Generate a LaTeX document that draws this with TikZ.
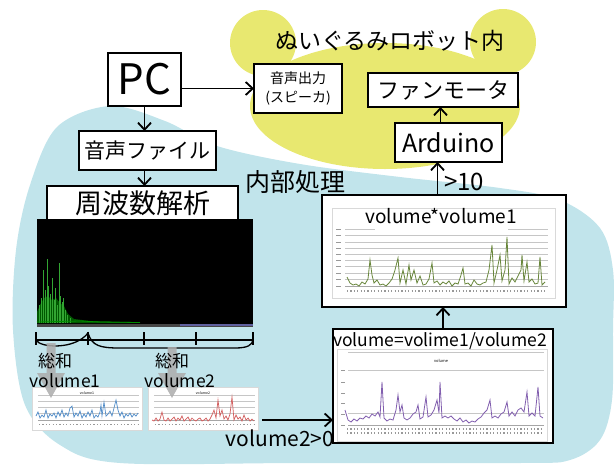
\documentclass[tikz,border=0pt]{standalone}
\usepackage{fontspec}
\setmainfont{Noto Sans CJK JP}
\usetikzlibrary{arrows.meta}
\definecolor{ylw}{RGB}{232,232,112}
\definecolor{blu}{RGB}{193,228,235}
\definecolor{olv}{RGB}{105,135,60}
\definecolor{prp}{RGB}{130,95,175}
\definecolor{bln}{RGB}{80,140,200}
\definecolor{rdl}{RGB}{210,95,95}
\definecolor{grn}{RGB}{50,165,50}
\newcommand{\fsz}[1]{\fontsize{#1}{#1}\selectfont}
\begin{document}
\begin{tikzpicture}[x=1pt,y=-1pt,
  box/.style={draw, line width=2.2pt, fill=white, inner sep=0pt, outer sep=0pt},
  arr/.style={line width=1.8pt, -{Straight Barb[length=7pt,width=13pt,line width=1.8pt]}},
  lbl/.style={inner sep=0pt},
  grid/.style={gray!45, line width=0.5pt},
  ticklbl/.style={gray!80, line width=1.6pt, dash pattern=on 1.2pt off 2.2pt},
  chart/.style={fill=white, draw=gray!30, line width=0.5pt, inner sep=0pt}]
\useasboundingbox (0,0) rectangle (615,466);

% yellow "robot" region
\fill[ylw] (385,106) ellipse [x radius=135, y radius=63];
\fill[ylw] (263,43) circle [radius=33];
\fill[ylw] (503,42) circle [radius=33];

% blue "internal processing" region
\fill[blu] plot[smooth cycle, tension=0.55] coordinates {
 (57,127) (110,106) (165,121) (217,146) (300,164) (400,177) (500,188)
 (560,200) (600,228) (613,270) (613,330) (612,400) (600,440) (570,460)
 (520,463) (300,463) (120,463) (60,445) (25,405) (13,330) (16,250) (30,185)};

% boxes
\node[box, minimum width=73pt, minimum height=53pt, font=\fsz{42}] (pc) at (144.5,79.5) {PC};
\node[box, minimum width=88pt, minimum height=49pt, align=center, font=\fontsize{14}{19}\selectfont] (spk) at (298,88.5) {音声出力\\(スピーカ)};
\node[box, minimum width=137pt, minimum height=39pt, font=\fsz{21}] (file) at (147.5,150.5) {音声ファイル};
\node[box, minimum width=191pt, minimum height=34pt, font=\fsz{27}] (fft) at (142.5,203) {周波数解析};
\node[fill=black, minimum width=216pt, minimum height=108pt, inner sep=0pt] (spec) at (145,273) {};
\node[box, minimum width=150pt, minimum height=34pt, font=\fsz{22}] (fan) at (443,90) {ファンモータ};
\node[box, minimum width=107pt, minimum height=39pt, font=\fsz{25}] (ard) at (448.5,142.5) {Arduino};
\node[box, line width=2.5pt, minimum width=244pt, minimum height=112pt] (vv1) at (444,251) {};
\node[box, line width=2.5pt, minimum width=220pt, minimum height=114pt] (vol) at (443,386) {};
\node[chart, minimum width=110pt, minimum height=43pt] (ch1) at (87,408.5) {};
\node[chart, minimum width=110pt, minimum height=43pt] (ch2) at (203,408.5) {};

% spectrum picture
\fill[green!35!black] (37,323) -- (37,312) -- (40,305) -- (44,298) -- (48,296) -- (52,300) -- (56,298) -- (60,303) -- (64,306) -- (68,314) -- (74,319) -- (90,321) -- (130,322) -- (130,323) -- cycle;
\foreach \x/\t in {39/305, 41/298, 43/270, 45/290, 47/259, 48/286, 50/294, 52/278, 54/300, 55/288, 57/305, 59/263, 60/296, 62/302, 63/298, 65/310, 67/315, 70/318}
  \draw[grn, line width=0.8pt] (\x,323) -- (\x,\t);
\draw[green!55!black, line width=0.8pt] (37,322) -- (80,321) -- (100,322) -- (140,322.5);
\fill[gray!55!black] (37,324) rectangle (253,326.5);
\fill[blue!25!gray] (180,324) rectangle (253,325.5);

% axis + braces under spectrum
\draw[line width=1.3pt] (36,340) -- (253,340);
\foreach \x in {36,88,144,196,253} \draw[line width=1.3pt] (\x,332) -- (\x,345);
\draw[line width=1.3pt] (36,340) .. controls (40,348) and (75,350) .. (88,333)
  .. controls (92,346) and (100,348) .. (120,348) -- (235,348) .. controls (248,348) and (252,345) .. (253,340);

% volume*volume1 chart
\draw[gray!30, line width=0.5pt] (332,208) rectangle (555,298);
\draw[grid] (345,229) -- (375,229) (508,229) -- (548,229);
\foreach \y in {235,242,248,254,260,266,273,279} \draw[grid] (345,\y) -- (548,\y);
\draw[gray!70, line width=0.6pt] (345,286) -- (548,286);
\foreach \y in {229,235,242,248,254,260,266,273,279,286} \draw[gray!80, line width=1pt] (336,\y) -- (341,\y);
\draw[ticklbl] (347,291) -- (546,291);
\draw[olv, line width=0.8pt] plot coordinates {(347,277) (350,283) (353,285) (356,284) (359,286) (362,282) (365,284) (368,279) (370,260) (372,275) (374,283) (377,280) (380,285) (383,284) (386,286) (389,283) (392,279) (395,270) (398,258) (400,283) (403,270) (406,284) (409,265) (411,280) (414,270) (417,283) (420,276) (423,285) (426,284) (429,279) (432,263) (434,283) (437,281) (440,285) (443,282) (446,284) (449,281) (452,286) (455,283) (458,284) (461,275) (463,268) (465,284) (468,283) (471,286) (474,280) (477,284) (480,285) (483,283) (486,282) (489,270) (492,245) (494,283) (497,270) (500,255) (502,281) (505,270) (507,237) (509,284) (512,278) (515,282) (518,276) (521,270) (522,255) (524,281) (527,262) (529,282) (532,279) (535,284) (538,283) (540,257) (542,285) (545,282)};
\node[lbl, font=\fsz{19}] (vv1t) at (441,216) {volume*volume1};

% volume chart
\draw[gray!30, line width=0.5pt] (337,349) rectangle (547,441);
\node[lbl, font=\fsz{4}] (volmini) at (441,361) {volume};
\foreach \y in {352,370,413} \draw[grid] (348,\y) -- (544,\y);
\draw[gray!70, line width=0.6pt] (348,425) -- (544,425);
\foreach \y in {370,382,393,403,414,425} \draw[gray!80, line width=1pt] (341,\y) -- (345,\y);
\draw[ticklbl] (347,429) -- (544,429);
\draw[ticklbl] (347,433) -- (544,433);
\draw[prp, line width=0.8pt] plot coordinates {(345,410) (348,420) (351,422) (354,419) (357,421) (360,418) (363,419) (366,416) (369,418) (372,414) (375,416) (378,412) (380,417) (382,382) (384,418) (387,421) (390,419) (393,420) (396,410) (398,395) (400,412) (402,405) (404,418) (407,420) (410,418) (413,414) (416,412) (418,405) (420,419) (423,417) (426,397) (428,417) (431,415) (434,410) (437,400) (439,413) (440,382) (442,418) (445,416) (448,418) (451,416) (454,419) (457,421) (460,418) (463,422) (466,420) (469,423) (472,421) (475,422) (478,419) (481,417) (484,413) (487,410) (490,400) (492,418) (495,416) (498,418) (501,414) (504,412) (507,402) (509,416) (512,412) (515,416) (518,410) (521,408) (524,412) (527,392) (529,416) (532,413) (535,416) (538,387) (540,416) (543,418)};
\node[lbl, font=\fsz{17.5}] (volt) at (440,341) {volume=volime1/volume2};

% small charts
\foreach \c in {ch1,ch2} {
  \foreach \dy in {-13,-7,-1,5} \draw[grid] ([xshift=-49pt,yshift=-\dy pt]\c.center) -- ([xshift=52pt,yshift=-\dy pt]\c.center);
  \draw[gray!70, line width=0.5pt] ([xshift=-49pt,yshift=-12pt]\c.center) -- ([xshift=52pt,yshift=-12pt]\c.center);
  \draw[ticklbl, line width=1.2pt] ([xshift=-48pt,yshift=-16pt]\c.center) -- ([xshift=52pt,yshift=-16pt]\c.center);
}
\node[lbl, font=\fsz{3.5}] (c1t) at (87,393.5) {volume1};
\node[lbl, font=\fsz{3.5}] (c2t) at (203,393.5) {volume2};
\draw[bln, line width=0.7pt] plot coordinates {(36,416) (38,412) (40,418) (42,415) (44,417) (46,410) (48,418) (50,414) (52,416) (54,413) (56,418) (58,412) (60,416) (62,410) (64,417) (66,413) (68,416) (70,408) (72,406) (74,417) (76,413) (78,416) (80,411) (82,418) (84,414) (86,417) (88,412) (90,416) (92,410) (94,418) (96,415) (98,417) (100,412) (101,405) (102,416) (104,402) (106,416) (108,414) (110,411) (112,416) (114,408) (116,400) (118,410) (120,416) (122,412) (124,418) (126,414) (128,416) (130,413) (132,417) (134,414) (136,416) (138,413)};
\draw[rdl, line width=0.7pt] plot coordinates {(152,420) (154,421) (156,418) (158,421) (160,419) (162,412) (164,420) (166,421) (168,418) (170,421) (172,419) (174,417) (176,421) (178,418) (180,420) (182,416) (184,421) (186,419) (188,417) (190,421) (192,418) (194,420) (196,421) (198,419) (200,418) (202,421) (204,420) (206,418) (208,421) (210,419) (212,415) (214,410) (216,418) (218,400) (220,416) (222,410) (224,419) (226,416) (228,420) (230,414) (232,397) (234,420) (236,415) (238,419) (240,417) (242,421) (244,415) (246,420) (248,418) (250,421) (252,419) (254,421)};

% grey summation arrows
\foreach \cx/\top in {51/343, 172/347}
  \fill[gray!65, opacity=0.85] (\cx-4.5,\top) -- (\cx+4.5,\top) -- (\cx+4.5,373) -- (\cx+14,373) -- (\cx,398) -- (\cx-14,373) -- (\cx-4.5,373) -- cycle;

% connectors
\draw[arr] (pc.east |- spk.west) -- (spk.west);
\draw[arr] (pc.south) -- (pc.south |- file.north);
\draw[arr] (pc.south |- file.south) -- (pc.south |- fft.north);
\coordinate (a1) at ([xshift=-11pt]ard.south);
\draw[arr] (a1 |- vv1.north) -- (a1);
\coordinate (a2) at ([xshift=-8pt]ard.north);
\draw[arr] (a2) -- (a2 |- fan.south);
\draw[arr] (vol.north) -- (vol.north |- vv1.south);
\coordinate (s2) at ([xshift=4pt,yshift=-11.5pt]ch2.east);
\draw[arr] (s2) -- (s2 -| vol.west);

% labels
\node[lbl, font=\fsz{23}] (robot) at (390,41) {ぬいぐるみロボット内};
\node[lbl, font=\fsz{25}] (inner) at (295,182) {内部処理};
\node[lbl, font=\fsz{24}] (gt) at (464,182) {>10};
\node[lbl, font=\fsz{17}] (sum1) at (55,361) {総和};
\node[lbl, font=\fsz{17.5}] (v1) at (65,381) {volume1};
\node[lbl, font=\fsz{17}] (sum2) at (172,361) {総和};
\node[lbl, font=\fsz{17.5}] (v2) at (180,381) {volume2};
\node[lbl, font=\fsz{21}] (cond) at (280,438) {volume2>0};
\end{tikzpicture}
\end{document}
